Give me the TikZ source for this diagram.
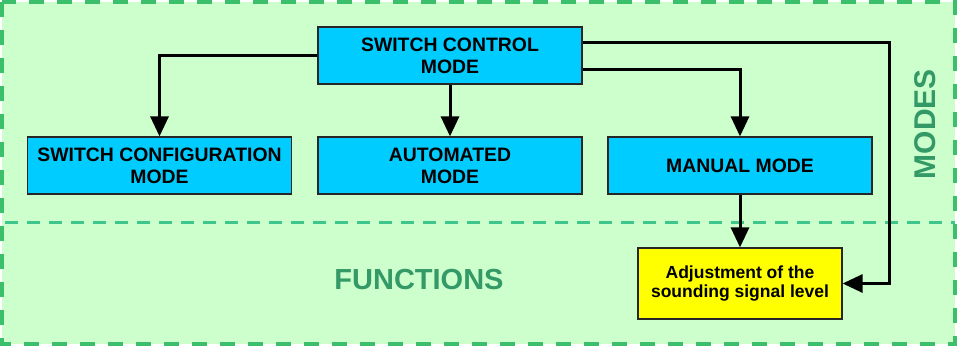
\documentclass[tikz,border=0pt]{standalone}
\usepackage{tikz}
\usepackage{xcolor}
\usepackage{fontspec}
\setmainfont{Liberation Sans}
\usetikzlibrary{arrows.meta}
\definecolor{bgGreen}{HTML}{CCFFCC}
\definecolor{frameGreen}{HTML}{3CBF6A}
\definecolor{lineGreen}{HTML}{3EC68C}
\definecolor{textGreen}{HTML}{339966}
\definecolor{modeBlue}{HTML}{00CCFF}
\definecolor{funcYellow}{HTML}{FFFF00}
\tikzset{%
  tipA/.tip={Triangle[length=20pt,width=18pt]},
  modebox/.style={draw=black!85, line width=1.2pt, fill=modeBlue, align=center,
    minimum width=264pt, minimum height=57pt, inner sep=0pt,
    font=\fontsize{19.4}{22}\selectfont\bfseries},
  funcbox/.style={draw=black!85, line width=1.2pt, fill=funcYellow, align=center,
    minimum width=204pt, minimum height=71pt, inner sep=0pt,
    font=\fontsize{17.5}{19}\selectfont\bfseries},
  arr/.style={line width=3pt, -tipA}
}

\begin{document}
\begin{tikzpicture}[x=1pt,y=-1pt]
\useasboundingbox (0,0) rectangle (958,346);
% background and the two regions
\draw[fill=bgGreen, draw=frameGreen, line width=3.5pt, dash pattern=on 15pt off 13pt] (2,2) rectangle (955,344);
\draw[draw=lineGreen, line width=3pt, dash pattern=on 13pt off 9pt] (5,222) -- (955,222);
\node[text=textGreen, font=\fontsize{30}{30}\selectfont\bfseries, rotate=90] (modes) at (925,124) {MODES};
\node[text=textGreen, font=\fontsize{29}{29}\selectfont\bfseries] (functions) at (419,280) {FUNCTIONS};
% boxes
\node[modebox] (ctrl) at (450,55.5) {SWITCH CONTROL\\MODE};
\node[modebox] (cfg) at (159.5,165.5) {SWITCH CONFIGURATION\\MODE};
\node[modebox] (auto) at (450,165.5) {AUTOMATED\\MODE};
\node[modebox] (man) at (740,165.5) {MANUAL MODE};
\node[funcbox] (adj) at (740,283.5) {Adjustment of the\\sounding signal level};
\coordinate (bend) at (889,42);
% arrows
\draw[arr] (ctrl.west) -| (cfg.north);
\draw[arr] (ctrl.south) -- (auto.north);
\draw[arr] ([yshift=-14pt]ctrl.east) -| (man.north);
\draw[arr] (man.south) -- (adj.north);
\draw[arr] ([yshift=13.5pt]ctrl.east) -- (bend) |- (adj.east);
\end{tikzpicture}
\end{document}
